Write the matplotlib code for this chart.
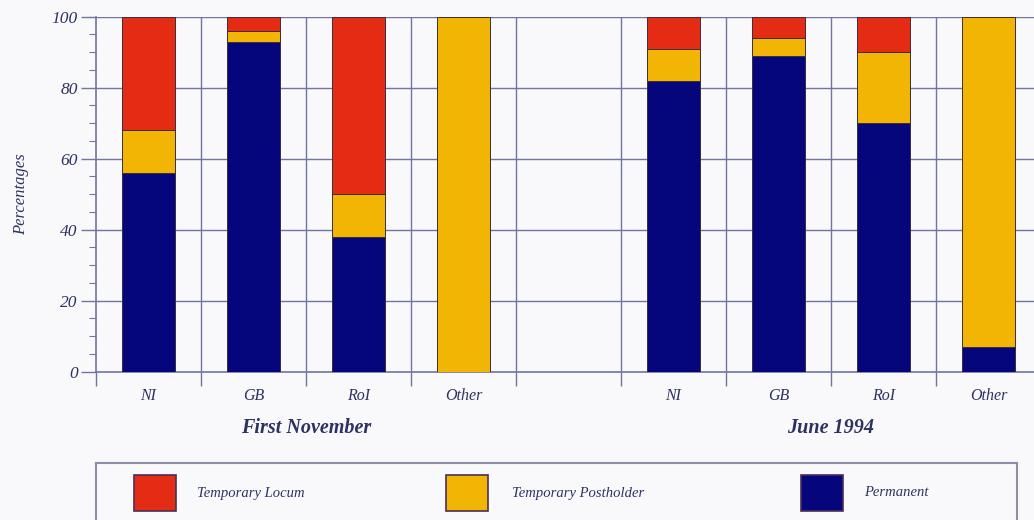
import matplotlib
matplotlib.use("Agg")
import matplotlib.pyplot as plt
from matplotlib.patches import Rectangle
import numpy as np

# Data: percentage of posts by contract type, two survey dates
regions = ["NI", "GB", "RoI", "Other"]
groups = ["First November", "June 1994"]
series_names = ["Temporary Locum", "Temporary Postholder", "Permanent"]

permanent_nov = [56, 93, 38, 0]
postholder_nov = [12, 3, 12, 100]
locum_nov = [32, 4, 50, 0]

permanent_jun = [82, 89, 70, 7]
postholder_jun = [9, 5, 20, 93]
locum_jun = [9, 6, 10, 0]

y_ticks = [0, 20, 40, 60, 80, 100]

# Styling
c_locum = "#e42c14"
c_post = "#f3b503"
c_perm = "#06067c"
c_edge = "#3b2c3c"
c_grid = "#6f74a0"
c_text = "#2e3262"
bg = "#f9f9fb"
serif = ["Liberation Serif", "DejaVu Serif"]

W, H = 1034, 520
fig = plt.figure(figsize=(W / 100, H / 100), dpi=100, facecolor=bg)

slot_px = 105.0
left_px, right_px = 96.0, 1034.0
x_left = -0.5
x_right = x_left + (right_px - left_px) / slot_px

ax = fig.add_axes([left_px / W, (H - 371.7) / H,
                   (right_px - left_px) / W, (371.7 - 16.7) / H])
ax.set_facecolor(bg)
ax.set_xlim(x_left, x_right)
ax.set_ylim(0, 100)

# bar positions: four regions, an empty slot, four regions
pos_nov = np.arange(4)
pos_jun = np.arange(5, 9)
bw = 0.5

for pos, perm, post, loc in [(pos_nov, permanent_nov, postholder_nov, locum_nov),
                             (pos_jun, permanent_jun, postholder_jun, locum_jun)]:
    perm = np.array(perm, float)
    post = np.array(post, float)
    loc = np.array(loc, float)
    kw = dict(width=bw, edgecolor=c_edge, linewidth=0.7, zorder=3)
    for p, v, b in zip(pos, perm, np.zeros(4)):
        if v > 0:
            ax.bar(p, v, bottom=b, color=c_perm, **kw)
    for p, v, b in zip(pos, post, perm):
        if v > 0:
            ax.bar(p, v, bottom=b, color=c_post, **kw)
    for p, v, b in zip(pos, loc, perm + post):
        if v > 0:
            ax.bar(p, v, bottom=b, color=c_locum, **kw)

# grid: horizontal at labelled values, vertical at slot boundaries
for yv in y_ticks[1:]:
    ax.axhline(yv, color=c_grid, lw=1.0, zorder=1)
bounds = np.arange(-0.5, 8.0, 1.0)
for xv in bounds[1:]:
    ax.axvline(xv, color=c_grid, lw=1.0, zorder=1)

for s in ["top", "right"]:
    ax.spines[s].set_visible(False)
for s in ["left", "bottom"]:
    ax.spines[s].set_color(c_grid)
    ax.spines[s].set_linewidth(1.2)

ax.set_yticks(y_ticks)
ax.set_yticklabels([str(v) for v in y_ticks], fontfamily=serif, fontstyle="italic",
                   fontsize=12.5, color=c_text)
ax.set_yticks(np.arange(0, 101, 5), minor=True)
ax.tick_params(axis="y", which="major", direction="out", length=11, width=1.0,
               color=c_grid, pad=2)
ax.tick_params(axis="y", which="minor", direction="out", length=5, width=0.8,
               color=c_grid)

ax.set_xticks(bounds)
ax.set_xticklabels([])
ax.set_xticks(np.concatenate([pos_nov, pos_jun]), minor=True)
ax.set_xticklabels(regions + regions, minor=True, fontfamily=serif,
                   fontstyle="italic", fontsize=11.5, color=c_text)
ax.tick_params(axis="x", which="major", direction="out", length=10, width=1.0,
               color=c_grid)
ax.tick_params(axis="x", which="minor", length=0, pad=12)

ax.set_ylabel("Percentages", fontfamily=serif, fontstyle="italic", fontsize=12,
              color=c_text, labelpad=16)

# group captions under the region labels
for name, pos in zip(groups, [pos_nov, pos_jun]):
    ax.text(pos.mean(), -15.8, name, ha="center", va="center", fontfamily=serif,
            fontstyle="italic", fontweight="bold", fontsize=14.5, color=c_text,
            transform=ax.transData, clip_on=False)

# legend panel along the bottom edge
lax = fig.add_axes([left_px / W, 0, (1017 - left_px) / W, (H - 462.7) / H])
lax.set_xlim(left_px, 1017)
lax.set_ylim(H, 462.7)
lax.set_facecolor(bg)
lax.set_xticks([])
lax.set_yticks([])
lax.spines["bottom"].set_visible(False)
for s in ["top", "left", "right"]:
    lax.spines[s].set_color("#8c8fa8")
    lax.spines[s].set_linewidth(1.5)

legend_colors = [c_locum, c_post, c_perm]
patch_x = [134, 446, 801]
text_x = [197, 512, 864]
for name, col, px, tx in zip(series_names, legend_colors, patch_x, text_x):
    lax.add_patch(Rectangle((px, 475), 42, 36, facecolor=col, edgecolor="#4a2e58",
                            linewidth=1.2))
    lax.text(tx, 493, name, ha="left", va="center", fontfamily=serif,
             fontstyle="italic", fontsize=10.5, color=c_text)

fig.savefig("out.png", dpi=100, facecolor=bg)
